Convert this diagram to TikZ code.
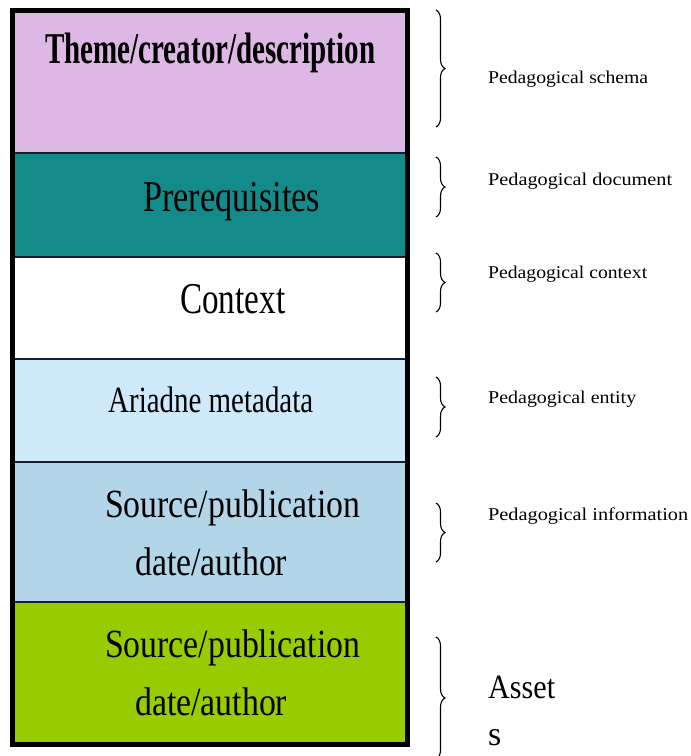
\documentclass[tikz,border=0pt]{standalone}
\usepackage{fontspec}
\setmainfont{Liberation Serif}
\usetikzlibrary{decorations.pathreplacing}
\newcommand{\fitw}[2]{\resizebox{#1}{\height}{#2}}
\definecolor{pinkc}{RGB}{222,184,228}
\definecolor{tealc}{RGB}{19,139,139}
\definecolor{lbluec}{RGB}{205,233,250}
\definecolor{bluec}{RGB}{178,214,232}
\definecolor{greenc}{RGB}{153,204,0}
\definecolor{divc}{RGB}{25,30,45}
\begin{document}
\begin{tikzpicture}[x=1pt,y=-1pt,
  row/.style={draw=none, rectangle, inner sep=0pt, outer sep=0pt, anchor=north west, minimum width=395pt},
  boxtext/.style={inner sep=0pt, anchor=base west, text=black, font=\fontsize{44}{44}\selectfont},
  lbl/.style={inner sep=0pt, anchor=base west, text=black, font=\fontsize{18}{18}\selectfont},
  divider/.style={draw=divc, line width=1.6pt},
  brc/.style={decorate, decoration={brace, amplitude=9pt}, line width=1.1pt}]
\useasboundingbox (0,0) rectangle (691,756);
\fill[white] (0,0) rectangle (691,756);
% rows
\node[row, fill=pinkc,  minimum height=142.5pt] (r1) at (12.5,10.5) {};
\node[row, fill=tealc,  minimum height=104pt]   (r2) at (12.5,153) {};
\node[row, fill=white,  minimum height=102pt]   (r3) at (12.5,257) {};
\node[row, fill=lbluec, minimum height=103pt]   (r4) at (12.5,359) {};
\node[row, fill=bluec,  minimum height=140pt]   (r5) at (12.5,462) {};
\node[row, fill=greenc, minimum height=142.5pt] (r6) at (12.5,602) {};
\draw[divider] (r1.south west) -- (r1.south east);
\draw[divider] (r2.south west) -- (r2.south east);
\draw[divider] (r3.south west) -- (r3.south east);
\draw[divider] (r4.south west) -- (r4.south east);
\draw[divider] (r5.south west) -- (r5.south east);
\draw[line width=5pt] (r1.north west) rectangle (r6.south east);
% row texts
\node[boxtext, font=\fontsize{44}{44}\selectfont\bfseries] (t1) at (45,63) {\fitw{330pt}{Theme/creator/description}};
\node[boxtext] (t2) at (143,211) {\fitw{177pt}{Prerequisites}};
\node[boxtext] (t3) at (180,313) {\fitw{105pt}{Context}};
\node[boxtext, font=\fontsize{37}{37}\selectfont] (t4) at (108,412) {\fitw{205pt}{Ariadne metadata}};
\node[boxtext, font=\fontsize{40}{40}\selectfont] (t5a) at (105,517) {\fitw{255pt}{Source/publication}};
\node[boxtext, font=\fontsize{40}{40}\selectfont] (t5b) at (135,575) {\fitw{152pt}{date/author}};
\node[boxtext, font=\fontsize{40}{40}\selectfont] (t6a) at (105,657) {\fitw{255pt}{Source/publication}};
\node[boxtext, font=\fontsize{40}{40}\selectfont] (t6b) at (135,715) {\fitw{152pt}{date/author}};
% braces
\coordinate (b1t) at (436,10);  \coordinate (b1b) at (436,127);
\coordinate (b2t) at (436,157); \coordinate (b2b) at (436,217);
\coordinate (b3t) at (436,253); \coordinate (b3b) at (436,312);
\coordinate (b4t) at (436,377); \coordinate (b4b) at (436,437);
\coordinate (b5t) at (436,503); \coordinate (b5b) at (436,562);
\coordinate (b6t) at (436,637); \coordinate (b6b) at (436,759);
\draw[brc] (b1t) -- (b1b);
\draw[brc] (b2t) -- (b2b);
\draw[brc] (b3t) -- (b3b);
\draw[brc] (b4t) -- (b4b);
\draw[brc] (b5t) -- (b5b);
\draw[brc] (b6t) -- (b6b);
% labels
\node[lbl] (l1) at (488,83)  {\fitw{160pt}{Pedagogical schema}};
\node[lbl] (l2) at (488,185) {\fitw{184pt}{Pedagogical document}};
\node[lbl] (l3) at (488,278) {\fitw{159pt}{Pedagogical context}};
\node[lbl] (l4) at (488,403) {\fitw{148pt}{Pedagogical entity}};
\node[lbl] (l5) at (488,520) {\fitw{200pt}{Pedagogical information}};
\node[lbl, font=\fontsize{34}{34}\selectfont] (l6a) at (488,698) {\fitw{67pt}{Asset}};
\node[lbl, font=\fontsize{34}{34}\selectfont] (l6b) at (488,745) {s};
\end{tikzpicture}
\end{document}
